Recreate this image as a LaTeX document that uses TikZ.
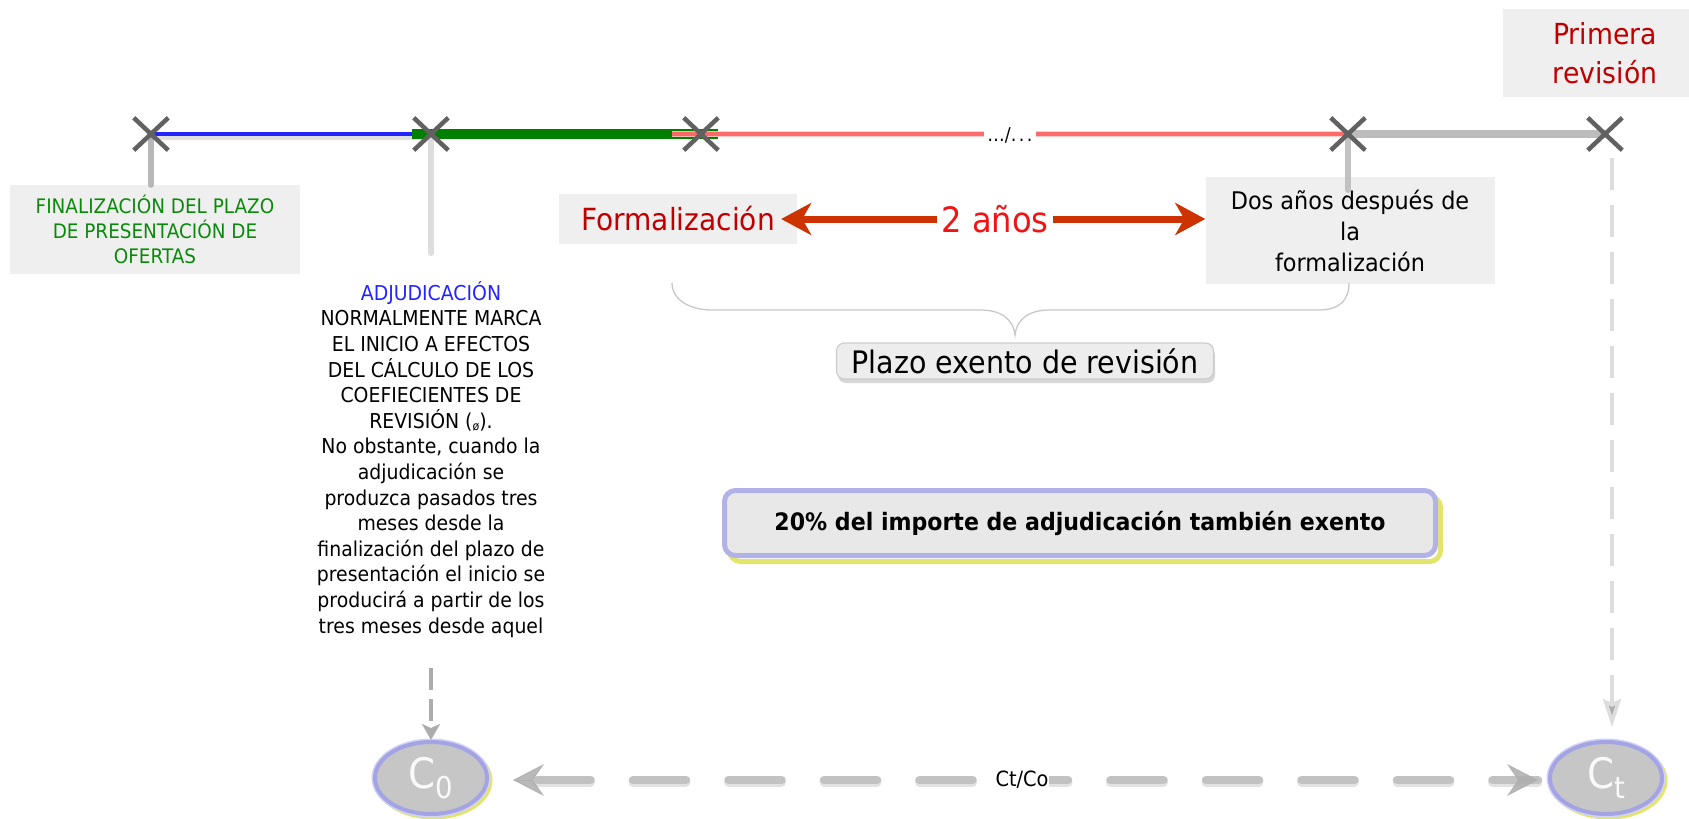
\documentclass[tikz,border=0pt]{standalone}
\usepackage{fontspec}
\setmainfont{DejaVu Sans}[FakeStretch=0.92]
\usetikzlibrary{arrows.meta,shapes.misc,shapes.geometric}
\definecolor{xgray}{HTML}{616161}
\definecolor{boxfill}{HTML}{EFEFEF}
\definecolor{lblue}{HTML}{2424FF}
\definecolor{dgreen}{HTML}{007F00}
\definecolor{tgreen}{HTML}{0A8A0A}
\definecolor{salmon}{HTML}{FF6060}
\definecolor{pinkish}{HTML}{FFC4C4}
\definecolor{midgray}{HTML}{BCBCBC}
\definecolor{lgray}{HTML}{DDDDDD}
\definecolor{darkred}{HTML}{C00000}
\definecolor{brightred}{HTML}{F01414}
\definecolor{arrowred}{HTML}{CC3300}
\definecolor{lavender}{HTML}{A4A4E4}
\definecolor{lavhalo}{HTML}{D2D2F8}
\definecolor{shyellow}{HTML}{E4E46A}
\definecolor{ellfill}{HTML}{C6C6C6}
\definecolor{bracegray}{HTML}{C8C8C8}
\definecolor{dashgray}{HTML}{C2C2C2}
\definecolor{dashshadow}{HTML}{E2E2E2}
\definecolor{tipgray}{HTML}{ADADAD}
\newcommand{\myfs}[2]{\fontsize{#1pt}{#2pt}\selectfont}
\begin{document}
\begin{tikzpicture}[x=1pt,y=-1pt,
  xmark/.style={cross out, draw=xgray, line width=4.5pt, minimum width=30pt, minimum height=28pt, inner sep=0pt},
  lblbox/.style={fill=boxfill, inner sep=0pt, align=center},
  cnode/.style={ellipse, fill=ellfill, draw=lavender, line width=4pt, minimum width=112pt, minimum height=72pt, inner sep=0pt, text=white!95!gray,
     preaction={draw=lavhalo, line width=7pt}},
  ellshadow/.style={draw=shyellow, line width=4pt},
  vdash/.style={draw=lgray, line width=3.5pt},
  hdash/.style={draw=dashgray, line width=8.5pt, line cap=round, dash pattern=on 53pt off 42.5pt, dash phase=71pt},
  hdashsh/.style={draw=dashshadow, line width=9pt, line cap=round, dash pattern=on 53pt off 42.5pt, dash phase=71pt},
  htip/.style={draw=tipgray, fill=tipgray, line width=1pt, opacity=.85, -{Stealth[length=31pt,width=32pt,inset=11pt]}},
  redarrow/.style={draw=arrowred, line width=7pt, {Stealth[length=30pt,width=32pt,inset=9pt]}-{Stealth[length=30pt,width=32pt,inset=9pt]}},
  rbox/.style={rectangle, rounded corners=11pt, fill=black!9, draw=lavender!85, line width=5pt, minimum width=711pt, minimum height=65pt, inner sep=0pt},
  pbox/.style={rectangle, rounded corners=8pt, fill=black!7, draw=black!20, line width=1.2pt, minimum width=377pt, minimum height=36pt, inner sep=0pt}
]
\useasboundingbox (0,0) rectangle (1689,819);

% timeline marks (positions)
\coordinate (p1) at (151,134);
\coordinate (p2) at (431,134);
\coordinate (p3) at (701,134);
\coordinate (p4) at (1348,134);
\coordinate (p5) at (1605,134);

% label boxes
\node[lblbox, minimum width=290pt, minimum height=89pt, text=tgreen, font=\myfs{20}{25}] (fin) at (155,229.5)
  {FINALIZACIÓN DEL PLAZO\\DE PRESENTACIÓN DE\\OFERTAS};
\node[lblbox, minimum width=238pt, minimum height=50pt, text=darkred, font=\myfs{30.5}{34}] (form) at (678,219) {Formalización};
\node[lblbox, minimum width=289pt, minimum height=107pt, font=\myfs{24.3}{31}] (dos) at (1350,230.5)
  {Dos años después de\\la\\formalización};
\node[lblbox, minimum width=204pt, minimum height=88pt, text=darkred, font=\myfs{29}{39}] (prim) at (1605,53)
  {Primera\\revisión};

% timeline segments
\draw[black!12, line width=8pt] ([yshift=-2pt]p1) -- ([yshift=-2pt]p2);
\draw[lblue, line width=4pt] (p1) -- (p2);
\draw[dgreen, line width=10pt] ([xshift=-19pt]p2) -- ([xshift=17pt]p3);
\draw[pinkish, line width=6.5pt, opacity=.9] ([xshift=-29pt]p3) -- (p4);
\draw[salmon, line width=3.5pt, opacity=.9] ([xshift=-29pt]p3) -- (p4);
\draw[midgray, line width=8.5pt] (p4) -- (p5);
\node[fill=white, inner xsep=3pt, inner ysep=1pt, font=\myfs{19}{19}] (dots) at (1010,135) {…/.\kern2.5pt.\kern2.5pt.};

% vertical drops
\coordinate (x2end) at (431,253);
\coordinate (x4end) at (1348,190);
\coordinate (x5start) at (1612,158);
\draw[black!35, line width=6pt, line cap=round, opacity=.8] (p1) -- (p1 |- fin.north);
\draw[lgray, line width=6pt, line cap=round] (p2) -- (x2end);
\draw[midgray, line width=6pt, line cap=round, opacity=.9] (p4) -- (x4end);

% X marks
\node[xmark] (x1) at (p1) {};
\node[xmark] (x2) at (p2) {};
\node[xmark] (x3) at (p3) {};
\node[xmark] (x4) at (p4) {};
\node[xmark] (x5) at (p5) {};

% 2 anos arrow
\draw[redarrow, shorten <=-16pt] (form.east) -- (form.east -| dos.west);
\node[fill=white, inner xsep=4pt, inner ysep=0pt, text=brightred, font=\myfs{35}{35}] (dosanos) at (995,219) {2 años};

% brace
\draw[bracegray, line width=1.3pt] (672,283) .. controls (672,300) and (690,310) .. (712,310) -- (980,310)
  .. controls (1000,310) and (1013,318) .. (1015,335)
  .. controls (1017,318) and (1030,310) .. (1050,310) -- (1318,310)
  .. controls (1340,310) and (1349,300) .. (1349,283);

% plazo box
\fill[black!16] (836+2,343+4) [rounded corners=8pt] rectangle (1213+2,379+4);
\node[pbox, font=\myfs{31}{34}] (plazo) at (1025,361) {Plazo exento de revisión};

% 20% box
\draw[shyellow, line width=5pt, rounded corners=11pt] (729.5,496.5) rectangle (1440.5,561.5);
\node[rbox, font=\bfseries\myfs{24}{28}] (b20) at (1080,523) {20\% del importe de adjudicación también exento};

% adjudicacion text
\node[align=center, inner sep=0pt, anchor=north, font=\myfs{20.5}{25.6}] (adj) at (431,281)
  {\textcolor{lblue}{ADJUDICACIÓN}\\
   NORMALMENTE MARCA\\
   EL INICIO A EFECTOS\\
   DEL CÁLCULO DE LOS\\
   COEFIECIENTES DE\\
   REVISIÓN (\raisebox{-2pt}{\myfs{12}{12}ø}).\\
   No obstante, cuando la\\
   adjudicación se\\
   produzca pasados tres\\
   meses desde la\\
   finalización del plazo de\\
   presentación el inicio se\\
   producirá a partir de los\\
   tres meses desde aquel};

% ellipses
\coordinate (c0c) at (431,778);
\coordinate (ctc) at (1606,778);
\draw[ellshadow] ([shift={(2.5,2.5)}]c0c) ellipse [x radius=57, y radius=37];
\draw[ellshadow] ([shift={(2.5,2.5)}]ctc) ellipse [x radius=57, y radius=37];
\node[cnode] (c0) at (c0c) {\myfs{42}{42}C\raisebox{-10pt}{\myfs{30}{30}0}};
\node[cnode] (ct) at (ctc) {\myfs{42}{42}C\raisebox{-10pt}{\myfs{30}{30}t}};

% vertical dashed arrows
\coordinate (adjend) at (431,668);
\draw[vdash, dash pattern=on 22pt off 9pt, -{Stealth[length=16pt,width=18pt,inset=4pt,fill=tipgray]}, tipgray] (adjend) -- (c0.north);
\draw[vdash, dash pattern=on 32pt off 15pt, shorten >=13pt, -{Stealth[length=28pt,width=18pt,inset=4pt,fill=tipgray]}] (x5start) -- (x5start |- ct.north);

% horizontal dashed connector
\coordinate (hl) at (513,780);
\coordinate (hr) at (1538,780);
\draw[hdashsh] ([yshift=-2pt]hl) -- ([yshift=-2pt]hr);
\draw[hdash] (hl) -- (hr);
\draw[htip] ([xshift=1pt]hl) -- (hl);
\draw[htip] ([xshift=-1pt]hr) -- (hr);
\node[fill=white, inner xsep=1pt, inner ysep=2pt, font=\myfs{21}{21}] (ratio) at (1022,780) {Ct/Co};
\end{tikzpicture}
\end{document}
